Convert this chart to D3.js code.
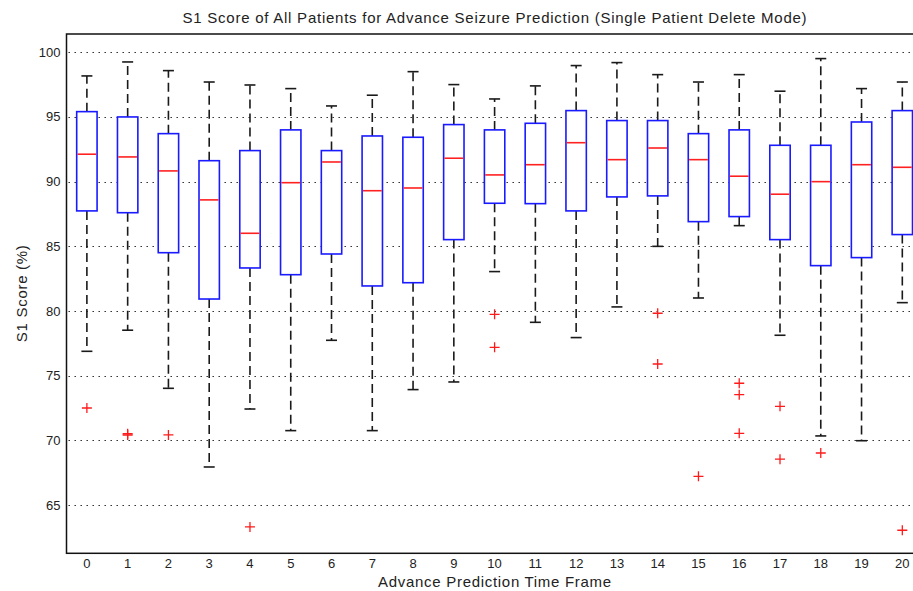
<!DOCTYPE html>
<html>
<head>
<meta charset="utf-8">
<script src="https://cdn.jsdelivr.net/npm/d3@7"></script>
<style>
  html, body { margin: 0; padding: 0; background: #fff; }
  svg { display: block; font-family: "Liberation Sans", Arial, Helvetica, sans-serif; }
</style>
</head>
<body>
<svg id="chart" width="913" height="591"></svg>
<script>
// Advance prediction time frames (x categories)
const frames = [0,1,2,3,4,5,6,7,8,9,10,11,12,13,14,15,16,17,18,19,20];

// Box statistics per time frame (S1 score, %)
const upperWhisker = [98.17,99.25,98.58,97.70,97.47,97.19,95.85,96.68,98.50,97.50,96.39,97.40,98.97,99.20,98.27,97.70,98.27,96.99,99.51,97.19,97.70];
const q3Values     = [95.41,95.00,93.71,91.62,92.40,94.00,92.40,93.53,93.43,94.41,94.00,94.51,95.49,94.72,94.72,93.71,94.00,92.81,92.81,94.61,95.49];
const medianValues = [92.12,91.91,90.83,88.59,86.01,89.92,91.52,89.30,89.51,91.81,90.52,91.31,93.01,91.70,92.60,91.70,90.42,89.03,90.00,91.31,91.11];
const q1Values     = [87.74,87.60,84.51,80.93,83.33,82.81,84.41,81.94,82.19,85.52,88.33,88.30,87.74,88.82,88.90,86.91,87.30,85.52,83.51,84.13,85.91];
const lowerWhisker = [76.89,78.52,74.03,67.95,72.43,70.76,77.74,70.76,73.93,74.52,83.05,79.13,77.95,80.32,85.00,81.01,86.60,78.13,70.35,69.98,80.65];

// Outlying scores per time frame
const outliers = [
  [72.51], [70.52, 70.42], [70.43], [], [63.32], [], [], [], [], [],
  [79.75, 77.20], [], [], [], [79.83, 75.91], [67.23], [74.42, 73.54, 70.55],
  [72.64, 68.55], [69.03], [], [63.06]
];

const yTicks = [65, 70, 75, 80, 85, 90, 95, 100];

const titleText = "S1 Score of All Patients for Advance Seizure Prediction (Single Patient Delete Mode)";
const xLabelText = "Advance Prediction Time Frame";
const yLabelText = "S1 Score (%)";

const svg = d3.select("#chart");
const plot = { left: 66.5, right: 922.7, top: 34, bottom: 553.3 };

const x = d3.scaleLinear().domain([-0.5, 20.5]).range([plot.left, plot.right]);
const y = d3.scaleLinear().domain([61.28, 101.41]).range([plot.bottom, plot.top]);

const step = x(1) - x(0);
const boxHalf = step * 0.25;
const capHalf = step * 0.135;

// Horizontal dotted grid
svg.append("g")
  .selectAll("line")
  .data(yTicks)
  .join("line")
  .attr("x1", plot.left + 2)
  .attr("x2", plot.right)
  .attr("y1", d => Math.round(y(d)) + 0.5)
  .attr("y2", d => Math.round(y(d)) + 0.5)
  .attr("stroke", "#222")
  .attr("stroke-width", 1.1)
  .attr("stroke-dasharray", "1.4,4.6");

const g = svg.append("g");
const boxes = g.selectAll("g.box")
  .data(frames.map((f, i) => ({
    f, hi: upperWhisker[i], q3: q3Values[i], med: medianValues[i],
    q1: q1Values[i], lo: lowerWhisker[i], out: outliers[i]
  })))
  .join("g")
  .attr("class", "box");

// Whiskers (dashed)
boxes.append("line")
  .attr("x1", d => x(d.f)).attr("x2", d => x(d.f))
  .attr("y1", d => y(d.q3)).attr("y2", d => y(d.hi))
  .attr("stroke", "#1a1a1a").attr("stroke-width", 1.6)
  .attr("stroke-dasharray", "9,5");
boxes.append("line")
  .attr("x1", d => x(d.f)).attr("x2", d => x(d.f))
  .attr("y1", d => y(d.q1)).attr("y2", d => y(d.lo))
  .attr("stroke", "#1a1a1a").attr("stroke-width", 1.6)
  .attr("stroke-dasharray", "9,5");

// Whisker caps
["hi", "lo"].forEach(k => {
  boxes.append("line")
    .attr("x1", d => x(d.f) - capHalf).attr("x2", d => x(d.f) + capHalf)
    .attr("y1", d => y(d[k])).attr("y2", d => y(d[k]))
    .attr("stroke", "#1a1a1a").attr("stroke-width", 1.6);
});

// Boxes
boxes.append("rect")
  .attr("x", d => x(d.f) - boxHalf)
  .attr("y", d => y(d.q3))
  .attr("width", boxHalf * 2)
  .attr("height", d => y(d.q1) - y(d.q3))
  .attr("fill", "#fff")
  .attr("stroke", "#1a1aff").attr("stroke-width", 1.6);

// Medians
boxes.append("line")
  .attr("x1", d => x(d.f) - boxHalf + 0.8).attr("x2", d => x(d.f) + boxHalf - 0.8)
  .attr("y1", d => y(d.med)).attr("y2", d => y(d.med))
  .attr("stroke", "#ff2020").attr("stroke-width", 1.6);

// Outlier markers (plus signs)
boxes.each(function(d) {
  d3.select(this).selectAll("path.out")
    .data(d.out.map(v => ({ f: d.f, v })))
    .join("path")
    .attr("class", "out")
    .attr("d", p => `M${x(p.f) - 5},${y(p.v)}H${x(p.f) + 5}M${x(p.f)},${y(p.v) - 5}V${y(p.v) + 5}`)
    .attr("stroke", "#ff1a1a").attr("stroke-width", 1.3).attr("fill", "none");
});

// Axes frame
svg.append("rect")
  .attr("x", plot.left).attr("y", plot.top)
  .attr("width", plot.right - plot.left).attr("height", plot.bottom - plot.top)
  .attr("fill", "none").attr("stroke", "#111").attr("stroke-width", 1.5);

// Y tick labels
svg.append("g")
  .selectAll("text")
  .data(yTicks)
  .join("text")
  .attr("x", plot.left - 6)
  .attr("y", d => y(d) + 4.5)
  .attr("text-anchor", "end")
  .attr("font-size", 13)
  .attr("fill", "#222")
  .text(d => d);

// X tick labels
svg.append("g")
  .selectAll("text")
  .data(frames)
  .join("text")
  .attr("x", d => x(d))
  .attr("y", 568)
  .attr("text-anchor", "middle")
  .attr("font-size", 13)
  .attr("fill", "#222")
  .text(d => d);

// Title and axis labels
const cx = (plot.left + plot.right) / 2;
svg.append("text")
  .attr("x", cx)
  .attr("y", 23)
  .attr("text-anchor", "middle")
  .attr("font-size", 15)
  .attr("fill", "#222")
  .attr("textLength", 624)
  .attr("lengthAdjust", "spacing")
  .text(titleText);

svg.append("text")
  .attr("x", cx)
  .attr("y", 587)
  .attr("text-anchor", "middle")
  .attr("font-size", 15)
  .attr("fill", "#222")
  .attr("textLength", 233)
  .attr("lengthAdjust", "spacing")
  .text(xLabelText);

svg.append("text")
  .attr("transform", `translate(27,${(plot.top + plot.bottom) / 2}) rotate(-90)`)
  .attr("text-anchor", "middle")
  .attr("font-size", 15)
  .attr("fill", "#222")
  .attr("textLength", 97)
  .attr("lengthAdjust", "spacing")
  .text(yLabelText);
</script>
</body>
</html>
